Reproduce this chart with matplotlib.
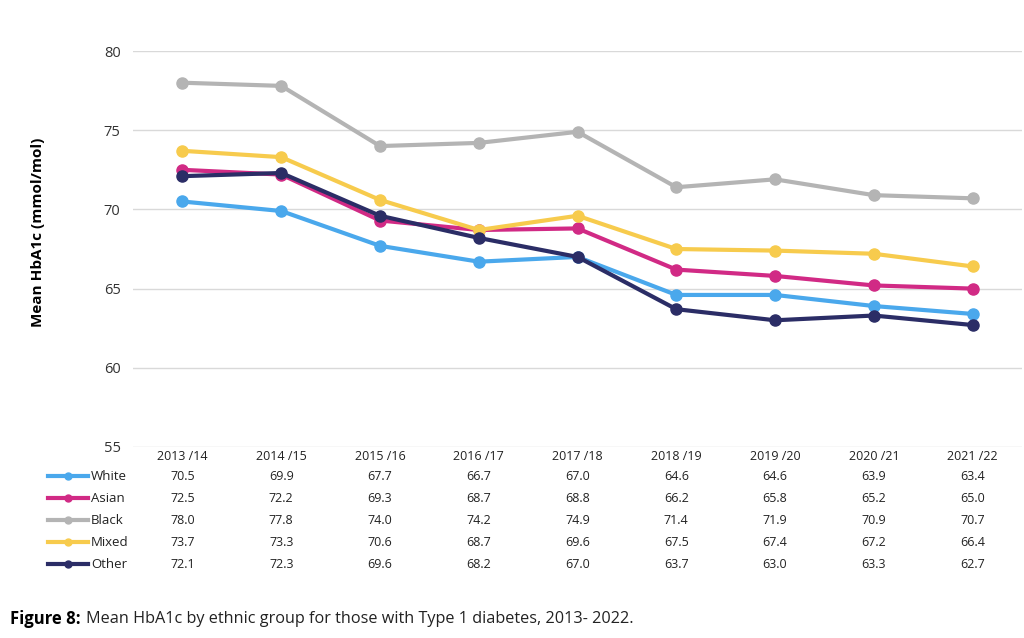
import matplotlib.pyplot as plt
import matplotlib.transforms as mtransforms
from matplotlib.lines import Line2D

plt.rcParams['font.family'] = ['Open Sans', 'DejaVu Sans']

years = ['2013 /14', '2014 /15', '2015 /16', '2016 /17', '2017 /18',
         '2018 /19', '2019 /20', '2020 /21', '2021 /22']
groups = ['White', 'Asian', 'Black', 'Mixed', 'Other']
white = [70.5, 69.9, 67.7, 66.7, 67.0, 64.6, 64.6, 63.9, 63.4]
asian = [72.5, 72.2, 69.3, 68.7, 68.8, 66.2, 65.8, 65.2, 65.0]
black = [78.0, 77.8, 74.0, 74.2, 74.9, 71.4, 71.9, 70.9, 70.7]
mixed = [73.7, 73.3, 70.6, 68.7, 69.6, 67.5, 67.4, 67.2, 66.4]
other = [72.1, 72.3, 69.6, 68.2, 67.0, 63.7, 63.0, 63.3, 62.7]
colors = ['#4aa8ec', '#d12a85', '#b4b4b4', '#f7cb4d', '#2b2d66']

series = [white, asian, black, mixed, other]

fig = plt.figure(figsize=(10.24, 6.38), dpi=100)
ax = fig.add_axes([0.13, 0.2994, 0.868, 0.6206])

x = list(range(len(years)))
for vals, c in zip(series, colors):
    ax.plot(x, vals, color=c, lw=3, marker='o', ms=8)

ax.set_xlim(-0.5, len(years) - 0.5)
ax.set_ylim(55, 80)
ax.set_yticks([55, 60, 65, 70, 75, 80])
ax.grid(axis='y', color='#d9d9d9', lw=1)
ax.set_axisbelow(True)
for s in ax.spines.values():
    s.set_visible(False)
ax.tick_params(axis='y', length=0, pad=9, labelsize=10.5, labelcolor='#333333')
ax.set_xticks([])
ax.set_ylabel('Mean HbA1c (mmol/mol)', fontsize=11, fontweight='bold')
ax.yaxis.set_label_coords(-0.099, 0.543)

# data table below the axes
trans = mtransforms.blended_transform_factory(ax.transData, fig.transFigure)
header_y = 1 - 457 / 638
for i, yr in enumerate(years):
    ax.text(i, header_y, yr, transform=trans, ha='center', va='center', fontsize=9, color='#222222')
for r, (name, vals, c) in enumerate(zip(groups, series, colors)):
    ry = 1 - (476 + 22 * r) / 638
    for i, v in enumerate(vals):
        ax.text(i, ry, f'{v:.1f}', transform=trans, ha='center', va='center', fontsize=9, color='#222222')
    # legend key: short line with a dot in the middle
    fig.add_artist(Line2D([48 / 1024, 68 / 1024, 88 / 1024], [ry, ry, ry], color=c, lw=3,
                          marker='o', markevery=[1], ms=5, transform=fig.transFigure))
    fig.text(91 / 1024, ry, name, ha='left', va='center', fontsize=9.5, color='#222222')

cap_y = 1 - 619 / 638
fig.text(10 / 1024, cap_y, 'Figure 8:', ha='left', va='center', fontsize=12, fontweight='bold')
fig.text(86 / 1024, cap_y, 'Mean HbA1c by ethnic group for those with Type 1 diabetes, 2013- 2022.',
         ha='left', va='center', fontsize=11.7, color='#222222')

fig.savefig('out.png', dpi=100)
